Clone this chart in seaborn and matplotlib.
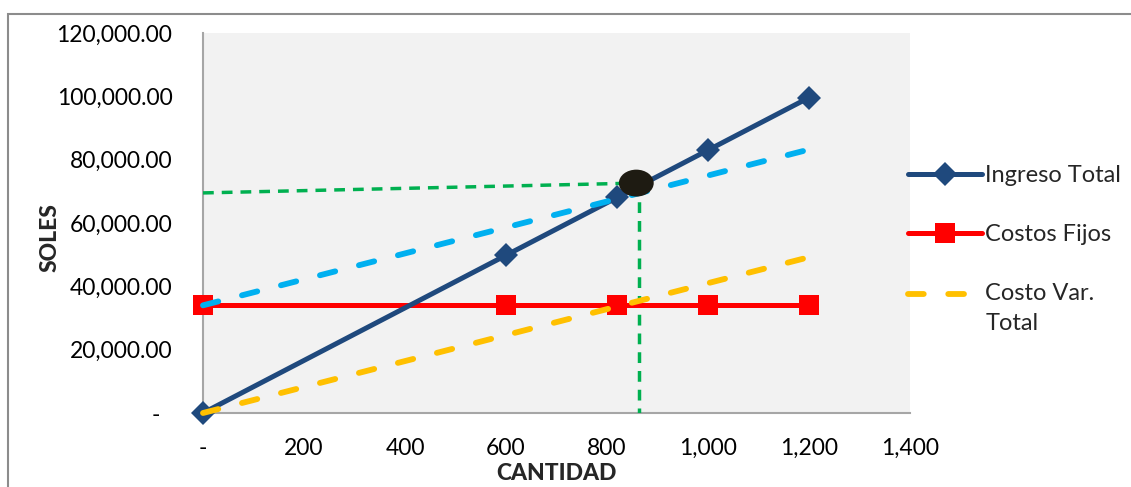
import matplotlib
matplotlib.use("Agg")
import matplotlib.pyplot as plt
import seaborn as sns
from matplotlib.patches import Ellipse, Rectangle
from matplotlib.ticker import FuncFormatter, MultipleLocator
from matplotlib.lines import Line2D
from matplotlib.legend_handler import HandlerLine2D

# ---- data ----
cantidad = [0, 600, 820, 1000, 1200]
ingreso_total = [0, 49800, 68060, 83000, 99600]
costos_fijos = [34000, 34000, 34000, 34000, 34000]
costo_var_total = [0, 24600, 33620, 41000, 49200]
costo_total = [34000, 58600, 67620, 75000, 83200]
equilibrio_q = 858
equilibrio_s = 72600
guia_h_x = [0, 858]
guia_h_y = [69500, 72600]
guia_v_x = [863, 863]
guia_v_y = [72600, 0]

sns.set_theme(style="white")
plt.rcParams['font.family'] = ['Lato', 'DejaVu Sans']

fig = plt.figure(figsize=(11.31, 4.87), dpi=100)
ax = fig.add_axes([203/1131, 1-413/487, (910-203)/1131, (413-33)/487])
ax.set_facecolor("#F2F2F2")

dark_blue = "#1F497D"
red = "#FF0000"
yellow = "#FFC000"
light_blue = "#00B0F0"
green = "#00B050"
dash = (0, (2.7, 4.2))
green_dash = (0, (3.1, 2.3))

sns.lineplot(x=guia_h_x, y=guia_h_y, ax=ax, color=green, lw=2.5,
             linestyle=green_dash, zorder=2, estimator=None)
sns.lineplot(x=guia_v_x, y=guia_v_y, ax=ax, color=green, lw=2.5,
             linestyle=green_dash, zorder=2, sort=False, estimator=None)
sns.lineplot(x=cantidad, y=costos_fijos, ax=ax, color=red, lw=3.6,
             marker="s", markersize=14, markeredgewidth=0, zorder=4, clip_on=False)
sns.lineplot(x=cantidad, y=ingreso_total, ax=ax, color=dark_blue, lw=3.6,
             marker="D", markersize=12, markeredgewidth=0, zorder=5, clip_on=False)
sns.lineplot(x=cantidad, y=costo_total, ax=ax, color=light_blue, lw=4.2,
             linestyle=dash, dash_capstyle="round", zorder=6, clip_on=False)
sns.lineplot(x=cantidad, y=costo_var_total, ax=ax, color=yellow, lw=4.2,
             linestyle=dash, dash_capstyle="round", zorder=6, clip_on=False)

ax.add_patch(Ellipse((equilibrio_q, equilibrio_s), width=69, height=8500,
                     facecolor="#1E1B12", edgecolor="none", zorder=7))

ax.set_xlim(0, 1400)
ax.set_ylim(0, 120000)
ax.xaxis.set_major_locator(MultipleLocator(200))
ax.yaxis.set_major_locator(MultipleLocator(20000))
ax.xaxis.set_major_formatter(FuncFormatter(lambda v, p: "-" if v == 0 else f"{v:,.0f}"))
ax.yaxis.set_major_formatter(FuncFormatter(lambda v, p: "-  " if v == 0 else f"{v:,.2f}"))
ax.tick_params(axis="both", length=0, labelsize=16.5, colors="black")
ax.tick_params(axis="y", pad=22)
ax.tick_params(axis="x", pad=18)
for s in ["top", "right"]:
    ax.spines[s].set_visible(False)
for s in ["left", "bottom"]:
    ax.spines[s].set_color("#A6A6A6")
    ax.spines[s].set_linewidth(1.5)
    ax.spines[s].set_zorder(1)
ax.set_xlabel("CANTIDAD", fontsize=16.5, fontweight=900)
ax.set_ylabel("SOLES", fontsize=16.5, fontweight=900)
ax.xaxis.set_label_coords(0.5, -(474-413)/380)
ax.xaxis.label.set_va("center")
ax.yaxis.set_label_coords((50-203)/707, (413-238)/380)
ax.yaxis.label.set_va("center")


class TopHandler(HandlerLine2D):
    def __init__(self, shift, **kw):
        super().__init__(**kw)
        self.shift = shift

    def create_artists(self, legend, orig_handle, xdescent, ydescent, width, height, fontsize, trans):
        arts = super().create_artists(legend, orig_handle, xdescent, ydescent, width, height, fontsize, trans)
        for a in arts:
            a.set_ydata([y + self.shift for y in a.get_ydata()])
        return arts


handles = [
    Line2D([], [], color=dark_blue, lw=3.6, marker="D", markersize=12, markeredgewidth=0),
    Line2D([], [], color=red, lw=3.6, marker="s", markersize=14, markeredgewidth=0),
    Line2D([], [], color=yellow, lw=4.2, linestyle=dash, dash_capstyle="round"),
]
labels = ["Ingreso Total", "Costos Fijos", "Costo Var.\nTotal"]
leg = fig.legend(handles, labels, loc="upper left", bbox_to_anchor=(899/1131, 1-156/487),
                 frameon=False, fontsize=17, handlelength=3.1, handletextpad=0.15,
                 labelspacing=1.6, borderaxespad=0,
                 handler_map={handles[2]: TopHandler(11)})
for t in leg.get_texts():
    t.set_linespacing(1.55)

fig.add_artist(Rectangle((8/1131, -0.1), 1.2, 1.1 - 14/487, transform=fig.transFigure,
                         fill=False, edgecolor="#8C8C8C", lw=1.5))

fig.savefig("out.png", dpi=100)
